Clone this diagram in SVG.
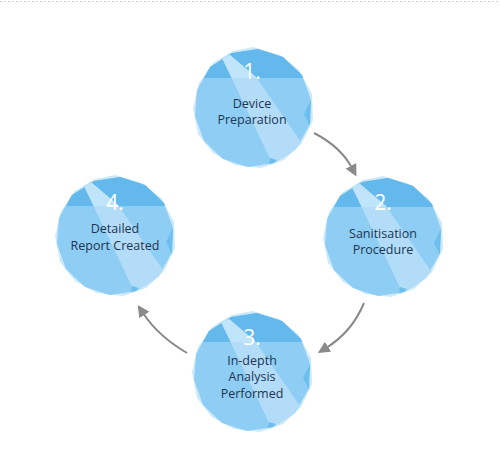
<svg xmlns="http://www.w3.org/2000/svg" xmlns:xlink="http://www.w3.org/1999/xlink" width="500" height="463" viewBox="0 0 500 463">
<style>
.num{font-family:"Open Sans","Liberation Sans",sans-serif;font-size:21px;fill:#ffffff;text-anchor:middle}
.lbl{font-family:"Open Sans","Liberation Sans",sans-serif;font-size:12.5px;fill:#1d3550;text-anchor:middle}
.arr{fill:none;stroke:#8a8a8a;stroke-width:2}
</style>
<defs>
<marker id="ah" viewBox="0 0 10 10" refX="2" refY="5" markerWidth="6" markerHeight="6" orient="auto" markerUnits="strokeWidth">
<path d="M0,0 L10,5 L0,10 z" fill="#8a8a8a"/>
</marker>
<g id="gem">
<polygon points="0,-61 27,-53 46,-38 59,-14 60,12 49,35 31,52 8,60 -18,57 -40,45 -55,26 -60,0 -54,-25 -40,-45 -20,-57" fill="#a9dbf7" opacity="0.6"/>
<polygon points="5,-59 30,-51 49,-33 58,-8 56,18 43,41 21,55 -5,59 -30,51 -49,33 -58,8 -56,-18 -43,-41 -21,-55" fill="#8ecdf4"/>
<polygon points="-49,-30 -43,-41 -21,-55 5,-59 30,-51 49,-33 50,-30" fill="#64b9ec"/>
<polygon points="-31,-50 -23,-53 3,-31 48,34 43,41 21,55 19,55" fill="#b2dcf8"/>
<polygon points="-31,-50 -23,-53 3,-31 2,-30 -21,-30" fill="#c0e4fa"/>
<polygon points="51,6 58,-8 57,18" fill="#6cbeef"/>
<polygon points="17,50 24,52 21,55 16,56" fill="#6cbeef"/>
</g>
</defs>
<rect width="500" height="463" fill="#ffffff"/>
<line x1="0" y1="1.5" x2="500" y2="1.5" stroke="#d2d2d2" stroke-width="1" stroke-dasharray="2 2"/>
<g id="connectors">
<path class="arr" d="M314,133 Q341,147 352,168" marker-end="url(#ah)"/>
<path class="arr" d="M364,303 Q352,332 326,348" marker-end="url(#ah)"/>
<path class="arr" d="M187,353 Q158,336 143,313" marker-end="url(#ah)"/>
</g>
<g id="node1">
<use xlink:href="#gem" x="253" y="108"/>
<text class="num" x="252" y="79">1.</text>
<text class="lbl" x="252" y="108">Device</text>
<text class="lbl" x="252" y="124">Preparation</text>
</g>
<g id="node2">
<use xlink:href="#gem" x="383" y="237"/>
<text class="num" x="383" y="210">2.</text>
<text class="lbl" x="383" y="238">Sanitisation</text>
<text class="lbl" x="383" y="254">Procedure</text>
</g>
<g id="node3">
<use xlink:href="#gem" x="252" y="372"/>
<text class="num" x="252" y="345">3.</text>
<text class="lbl" x="252" y="365">In-depth</text>
<text class="lbl" x="252" y="381">Analysis</text>
<text class="lbl" x="252" y="398">Performed</text>
</g>
<g id="node4">
<use xlink:href="#gem" x="115" y="236"/>
<text class="num" x="115" y="210">4.</text>
<text class="lbl" x="115" y="233">Detailed</text>
<text class="lbl" x="115" y="250">Report Created</text>
</g>
</svg>
